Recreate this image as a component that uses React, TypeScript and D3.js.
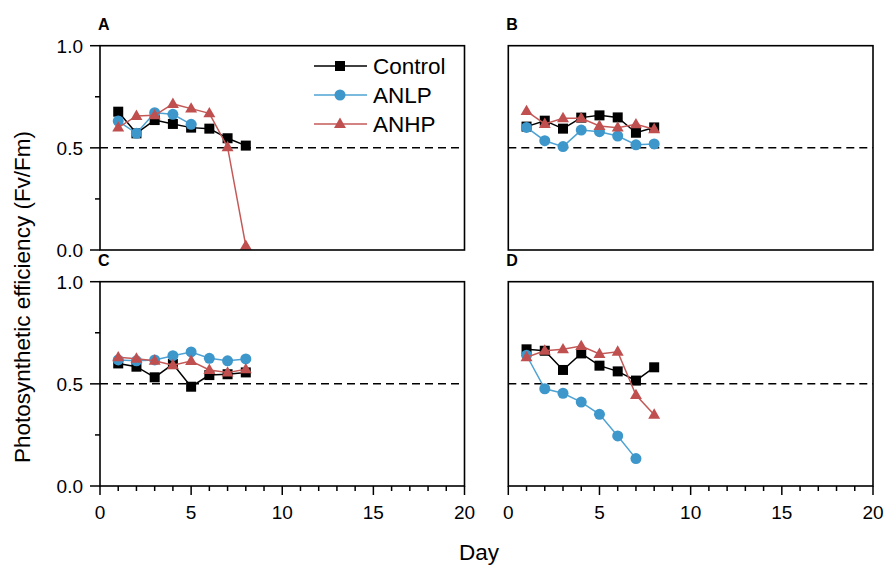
import React from "react";
import * as d3 from "d3";

const DAYS = [1, 2, 3, 4, 5, 6, 7, 8];
const SERIES_NAMES = ["Control", "ANLP", "ANHP"];
const PANEL_LABELS = ["A", "B", "C", "D"];
const X_TICKS = [0, 5, 10, 15, 20];
const X_MINOR = d3.range(0, 21, 1);
const Y_TICKS = [0, 0.5, 1];
const Y_MINOR = [0.25, 0.75];
const THRESHOLD = 0.5;

const A_CONTROL = [0.677, 0.571, 0.636, 0.617, 0.599, 0.594, 0.547, 0.511];
const A_ANLP = [0.631, 0.571, 0.672, 0.664, 0.615];
const A_ANHP = [0.599, 0.656, 0.659, 0.715, 0.692, 0.669, 0.503, 0.02];

const B_CONTROL = [0.604, 0.633, 0.594, 0.648, 0.659, 0.649, 0.574, 0.6];
const B_ANLP = [0.6, 0.535, 0.506, 0.587, 0.579, 0.558, 0.515, 0.519];
const B_ANHP = [0.68, 0.617, 0.645, 0.645, 0.607, 0.599, 0.615, 0.591];

const C_CONTROL = [0.6, 0.584, 0.532, 0.597, 0.486, 0.543, 0.547, 0.556];
const C_ANLP = [0.617, 0.613, 0.617, 0.638, 0.656, 0.625, 0.613, 0.622];
const C_ANHP = [0.63, 0.623, 0.613, 0.591, 0.612, 0.568, 0.555, 0.571];

const D_CONTROL = [0.669, 0.662, 0.568, 0.649, 0.589, 0.561, 0.516, 0.581];
const D_ANLP = [0.64, 0.476, 0.454, 0.411, 0.351, 0.245, 0.134];
const D_ANHP = [0.63, 0.662, 0.669, 0.685, 0.646, 0.657, 0.445, 0.349];

const PANEL_DATA = [
  [A_CONTROL, A_ANLP, A_ANHP],
  [B_CONTROL, B_ANLP, B_ANHP],
  [C_CONTROL, C_ANLP, C_ANHP],
  [D_CONTROL, D_ANLP, D_ANHP],
];

const COLORS = ["#000000", "#3d97cb", "#c0504f"];
const LINE_COLORS = ["#000000", "#4ea3d4", "#c45a58"];
const FONT = "'Liberation Sans', Arial, Helvetica, sans-serif";

const COLS = [
  { left: 100, right: 464.5 },
  { left: 508.3, right: 873 },
];
const ROWS = [
  { top: 45.7, bottom: 250 },
  { top: 281.7, bottom: 486 },
];

function Marker({ kind, x, y, color }: { kind: number; x: number; y: number; color: string }) {
  if (kind === 0) {
    return <rect x={x - 5} y={y - 5} width={10} height={10} fill={color} />;
  }
  if (kind === 1) {
    return <circle cx={x} cy={y} r={5.5} fill={color} />;
  }
  const sym = d3.symbol(d3.symbolTriangle, 62)();
  return <path d={sym as string} transform={`translate(${x},${y + 0.5})`} fill={color} />;
}

function Panel({ idx }: { idx: number }) {
  const col = COLS[idx % 2];
  const row = ROWS[Math.floor(idx / 2)];
  const x = d3.scaleLinear().domain([0, 20]).range([col.left, col.right]);
  const y = d3.scaleLinear().domain([0, 1]).range([row.bottom, row.top]);
  const showY = idx % 2 === 0;
  const showX = idx >= 2;
  const series = PANEL_DATA[idx];
  const line = d3
    .line<number>()
    .x((_, i) => x(DAYS[i]))
    .y((v) => y(v));
  return (
    <g>
      <text
        x={col.left - 2}
        y={row.top - 15.5}
        fontFamily={FONT}
        fontWeight="bold"
        fontSize={16}
        fill="#000"
      >
        {PANEL_LABELS[idx]}
      </text>
      <line
        x1={col.left}
        x2={col.right}
        y1={y(THRESHOLD)}
        y2={y(THRESHOLD)}
        stroke="#000"
        strokeWidth={1.5}
        strokeDasharray="8,5"
      />
      {series.map((vals, s) => (
        <g key={s}>
          <path d={line(vals) as string} fill="none" stroke={LINE_COLORS[s]} strokeWidth={1.5} />
          {vals.map((v, i) => (
            <Marker key={i} kind={s} x={x(DAYS[i])} y={y(v)} color={COLORS[s]} />
          ))}
        </g>
      ))}
      <rect
        x={col.left}
        y={row.top}
        width={col.right - col.left}
        height={row.bottom - row.top}
        fill="none"
        stroke="#000"
        strokeWidth={1.6}
      />
      {showY && (
        <g>
          {Y_TICKS.map((t) => (
            <g key={t}>
              <line x1={col.left - 10} x2={col.left} y1={y(t)} y2={y(t)} stroke="#000" strokeWidth={1.5} />
              <text
                x={col.left - 17}
                y={y(t)}
                dy="0.36em"
                textAnchor="end"
                fontFamily={FONT}
                fontSize={19}
                fill="#000"
              >
                {d3.format(".1f")(t)}
              </text>
            </g>
          ))}
          {Y_MINOR.map((t) => (
            <line key={t} x1={col.left - 5} x2={col.left} y1={y(t)} y2={y(t)} stroke="#000" strokeWidth={1.5} />
          ))}
        </g>
      )}
      {showX && (
        <g>
          {X_MINOR.map((t) => (
            <line
              key={t}
              x1={x(t)}
              x2={x(t)}
              y1={row.bottom}
              y2={row.bottom + (t % 5 === 0 ? 9 : 5)}
              stroke="#000"
              strokeWidth={1.5}
            />
          ))}
          {X_TICKS.map((t) => (
            <text
              key={t}
              x={x(t)}
              y={row.bottom + 33}
              textAnchor="middle"
              fontFamily={FONT}
              fontSize={19}
              fill="#000"
            >
              {t}
            </text>
          ))}
        </g>
      )}
    </g>
  );
}

function Legend() {
  const x0 = 314;
  const x1 = 367;
  const ys = [66, 95, 124];
  return (
    <g>
      {SERIES_NAMES.map((name, s) => (
        <g key={name}>
          <line x1={x0} x2={x1} y1={ys[s]} y2={ys[s]} stroke={LINE_COLORS[s]} strokeWidth={1.5} />
          <Marker kind={s} x={(x0 + x1) / 2 - 0.5} y={ys[s]} color={COLORS[s]} />
          <text
            x={373}
            y={ys[s]}
            dy="0.36em"
            fontFamily={FONT}
            fontSize={22.5}
            fill="#000"
          >
            {name}
          </text>
        </g>
      ))}
    </g>
  );
}

export default function App() {
  return (
    <svg
      width={887}
      height={567}
      style={{ position: "absolute", left: 0, top: 0, background: "#fff" }}
    >
      <rect width={887} height={567} fill="#fff" />
      {PANEL_LABELS.map((_, i) => (
        <Panel key={i} idx={i} />
      ))}
      <Legend />
      <text
        transform="translate(30,297) rotate(-90)"
        textAnchor="middle"
        fontFamily={FONT}
        fontSize={22.5}
        fill="#000"
      >
        Photosynthetic efficiency (Fv/Fm)
      </text>
      <text x={479} y={559.5} textAnchor="middle" fontFamily={FONT} fontSize={22.5} fill="#000">
        Day
      </text>
    </svg>
  );
}
